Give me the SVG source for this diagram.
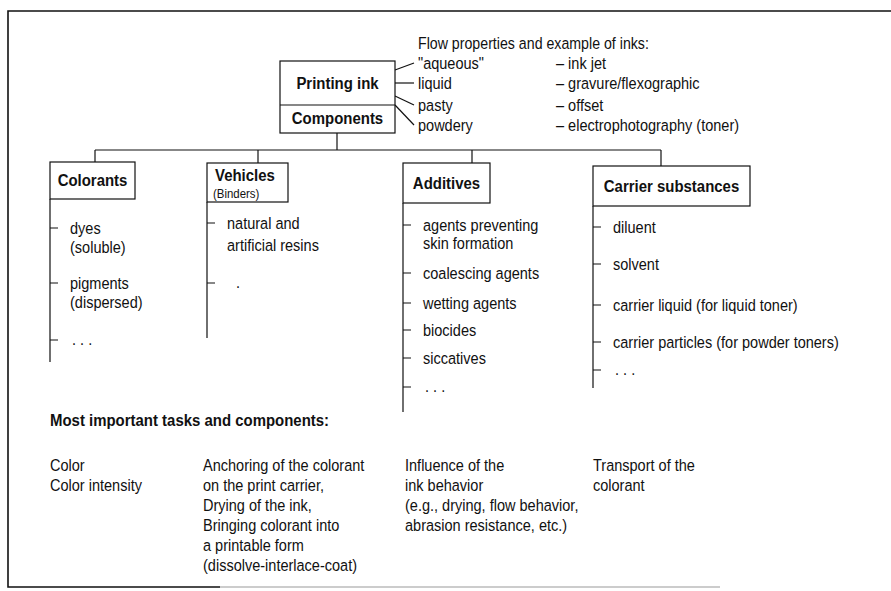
<svg xmlns="http://www.w3.org/2000/svg" width="891" height="591" viewBox="0 0 891 591">
<style>
  .ln { stroke: #111; stroke-width: 1.2; fill: none; }
  .fr { stroke: #111; stroke-width: 1.6; fill: none; }
  .faint { stroke: #999; stroke-width: 1; fill: none; }
  .box { fill: #fff; stroke: #111; stroke-width: 1.2; }
  text { font-family: "Liberation Sans", Arial, sans-serif; fill: #111; }
  .t { font-size: 16.5px; }
  .b { font-size: 17px; font-weight: bold; }
  .s { font-size: 13px; }
  .m { text-anchor: middle; }
</style>
<rect width="891" height="591" fill="#fff"/>

<g id="frame">
  <polyline class="fr" points="891,11 8,11 8,587 220,587"/>
  <line class="faint" x1="220" y1="587" x2="720" y2="587"/>
</g>

<g id="connectors">
  <line class="ln" x1="395" y1="70" x2="414" y2="63"/>
  <line class="ln" x1="395" y1="83" x2="414" y2="83"/>
  <line class="ln" x1="395" y1="96" x2="414" y2="105"/>
  <line class="ln" x1="395" y1="105" x2="414" y2="125"/>
  <line class="ln" x1="337" y1="133" x2="337" y2="150"/>
  <line class="ln" x1="95" y1="150" x2="661" y2="150"/>
  <line class="ln" x1="95" y1="150" x2="95" y2="162"/>
  <line class="ln" x1="258" y1="150" x2="258" y2="163"/>
  <line class="ln" x1="472" y1="150" x2="472" y2="163"/>
  <line class="ln" x1="661" y1="150" x2="661" y2="166"/>
  <path class="ln" d="M50,199 V362 M50,228 H58 M50,283 H58 M50,340 H58"/>
  <path class="ln" d="M207,202 V338 M207,223 H215 M207,283 H215"/>
  <path class="ln" d="M403,203 V412 M403,225 H411 M403,273 H411 M403,303 H411 M403,330 H411 M403,358 H411 M403,387 H411"/>
  <path class="ln" d="M593,206 V388 M593,227 H601 M593,264 H601 M593,305 H601 M593,342 H601 M593,370 H601"/>
</g>

<g id="printing-ink">
  <rect class="box" x="280" y="61" width="115" height="72"/>
  <line class="ln" x1="280" y1="105" x2="395" y2="105"/>
  <text class="b m" transform="translate(337.5 89) scale(0.88 1)">Printing ink</text>
  <text class="b m" transform="translate(337.5 124) scale(0.88 1)">Components</text>
</g>

<g id="flow-properties">
  <text class="t" transform="translate(418 49) scale(0.86 1)">Flow properties and example of inks:</text>
  <text class="t" transform="translate(418 69) scale(0.88 1)">"aqueous"</text>
  <text class="t" transform="translate(418 89) scale(0.88 1)">liquid</text>
  <text class="t" transform="translate(418 111) scale(0.88 1)">pasty</text>
  <text class="t" transform="translate(418 131) scale(0.88 1)">powdery</text>
  <text class="t" transform="translate(556 69) scale(0.88 1)">– ink jet</text>
  <text class="t" transform="translate(556 89) scale(0.88 1)">– gravure/flexographic</text>
  <text class="t" transform="translate(556 111) scale(0.88 1)">– offset</text>
  <text class="t" transform="translate(556 131) scale(0.88 1)">– electrophotography (toner)</text>
</g>

<g id="colorants">
  <rect class="box" x="50" y="162" width="85" height="37"/>
  <text class="b m" transform="translate(92.5 186) scale(0.88 1)">Colorants</text>
  <text class="t" transform="translate(70 234) scale(0.88 1)">dyes</text>
  <text class="t" transform="translate(70 253) scale(0.88 1)">(soluble)</text>
  <text class="t" transform="translate(70 289) scale(0.88 1)">pigments</text>
  <text class="t" transform="translate(70 308) scale(0.88 1)">(dispersed)</text>
  <text class="t" transform="translate(72 345) scale(0.88 1)">. . .</text>
</g>

<g id="vehicles">
  <rect class="box" x="207" y="163" width="81" height="39"/>
  <text class="b" transform="translate(215 181) scale(0.88 1)">Vehicles</text>
  <text class="s" transform="translate(213 198) scale(0.88 1)">(Binders)</text>
  <text class="t" transform="translate(227 229) scale(0.88 1)">natural and</text>
  <text class="t" transform="translate(227 251) scale(0.88 1)">artificial resins</text>
  <text class="t" transform="translate(236 288) scale(0.88 1)">.</text>
</g>

<g id="additives">
  <rect class="box" x="403" y="163" width="87" height="40"/>
  <text class="b m" transform="translate(446.5 189) scale(0.88 1)">Additives</text>
  <text class="t" transform="translate(423 231) scale(0.88 1)">agents preventing</text>
  <text class="t" transform="translate(423 249) scale(0.88 1)">skin formation</text>
  <text class="t" transform="translate(423 279) scale(0.88 1)">coalescing agents</text>
  <text class="t" transform="translate(423 309) scale(0.88 1)">wetting agents</text>
  <text class="t" transform="translate(423 336) scale(0.88 1)">biocides</text>
  <text class="t" transform="translate(423 364) scale(0.88 1)">siccatives</text>
  <text class="t" transform="translate(425 392) scale(0.88 1)">. . .</text>
</g>

<g id="carrier-substances">
  <rect class="box" x="593" y="166" width="157" height="40"/>
  <text class="b m" transform="translate(671.5 192) scale(0.88 1)">Carrier substances</text>
  <text class="t" transform="translate(613 233) scale(0.88 1)">diluent</text>
  <text class="t" transform="translate(613 270) scale(0.88 1)">solvent</text>
  <text class="t" transform="translate(613 311) scale(0.88 1)">carrier liquid (for liquid toner)</text>
  <text class="t" transform="translate(613 348) scale(0.88 1)">carrier particles (for powder toners)</text>
  <text class="t" transform="translate(615 375) scale(0.88 1)">. . .</text>
</g>

<g id="tasks">
  <text class="b" transform="translate(50 426) scale(0.88 1)">Most important tasks and components:</text>
  <text class="t" transform="translate(50 471) scale(0.88 1)">Color</text>
  <text class="t" transform="translate(50 491) scale(0.88 1)">Color intensity</text>
  <text class="t" transform="translate(203 471) scale(0.88 1)">Anchoring of the colorant</text>
  <text class="t" transform="translate(203 491) scale(0.88 1)">on the print carrier,</text>
  <text class="t" transform="translate(203 511) scale(0.88 1)">Drying of the ink,</text>
  <text class="t" transform="translate(203 531) scale(0.88 1)">Bringing colorant into</text>
  <text class="t" transform="translate(203 551) scale(0.88 1)">a printable form</text>
  <text class="t" transform="translate(203 571) scale(0.88 1)">(dissolve-interlace-coat)</text>
  <text class="t" transform="translate(405 471) scale(0.88 1)">Influence of the</text>
  <text class="t" transform="translate(405 491) scale(0.88 1)">ink behavior</text>
  <text class="t" transform="translate(405 511) scale(0.88 1)">(e.g., drying, flow behavior,</text>
  <text class="t" transform="translate(405 531) scale(0.88 1)">abrasion resistance, etc.)</text>
  <text class="t" transform="translate(593 471) scale(0.88 1)">Transport of the</text>
  <text class="t" transform="translate(593 491) scale(0.88 1)">colorant</text>
</g>
</svg>
